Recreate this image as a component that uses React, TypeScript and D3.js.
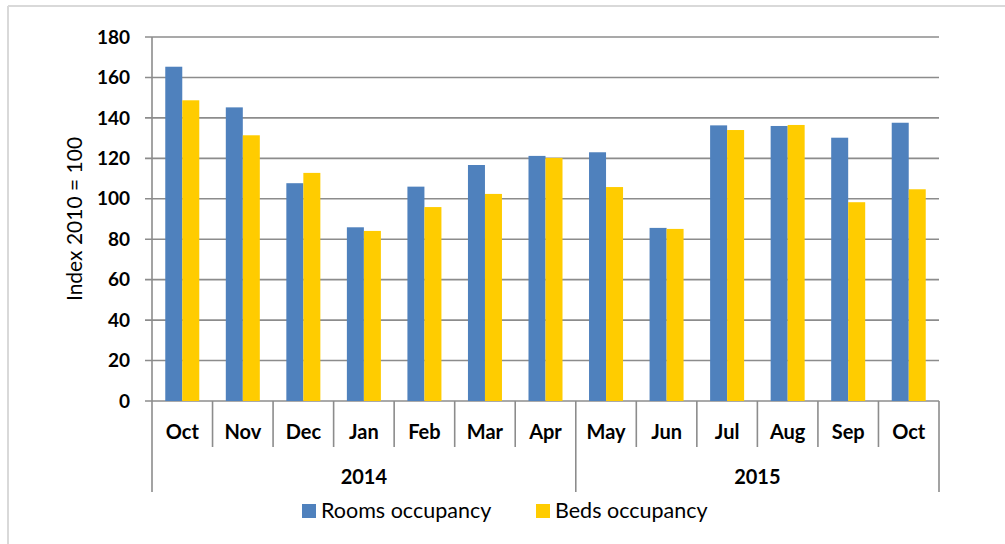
import React from "react";
import * as d3 from "d3";

const months = ["Oct", "Nov", "Dec", "Jan", "Feb", "Mar", "Apr", "May", "Jun", "Jul", "Aug", "Sep", "Oct"];
const years = [
  { label: "2014", start: 0, end: 7 },
  { label: "2015", start: 7, end: 13 },
];
const rooms = [165.3, 145.2, 107.7, 85.9, 106.0, 116.7, 121.2, 123.0, 85.6, 136.3, 136.0, 130.2, 137.6];
const beds = [148.7, 131.4, 112.8, 84.1, 95.9, 102.4, 120.2, 105.8, 85.1, 134.0, 136.5, 98.3, 104.7];
const yTicks = [0, 20, 40, 60, 80, 100, 120, 140, 160, 180];
const seriesNames = ["Rooms occupancy", "Beds occupancy"];
const colors = ["#4f81bd", "#ffcc00"];

export default function App() {
  const W = 1005, H = 544;
  const left = 152, right = 939, top = 37, bottom = 401;
  const font = "Lato, 'Open Sans', sans-serif";
  const y = d3.scaleLinear().domain([0, 180]).range([bottom, top]);
  const idx = months.map((_, i) => i);
  const x = d3.scaleBand<number>().domain(idx).range([left, right]).padding(0);
  const step = x.step();
  const inner = d3.scaleBand<number>().domain([0, 1]).range([0, step]).paddingInner(0).paddingOuter(0.78);
  const grid = "#8c8c8c";
  const data = [rooms, beds];

  return (
    <svg width={W} height={H} style={{ position: "absolute", left: 0, top: 0 }} fontFamily={font}>
      <rect x={0} y={0} width={W} height={H} fill="#fff" />
      <line x1={8} y1={6} x2={W} y2={6} stroke="#d9d9d9" strokeWidth={2} />
      <line x1={8} y1={6} x2={8} y2={H} stroke="#d9d9d9" strokeWidth={2} />
      {yTicks.map((t) => (
        <g key={t}>
          <line x1={145} x2={right} y1={y(t)} y2={y(t)} stroke={grid} strokeWidth={1.6} />
          <text x={130} y={y(t)} dy="0.35em" textAnchor="end" fontWeight="bold" fontSize={19} fill="#000">
            {t}
          </text>
        </g>
      ))}
      <line x1={left} x2={left} y1={top} y2={bottom} stroke={grid} strokeWidth={1.6} />
      {data.map((vals, s) =>
        vals.map((v, i) => (
          <rect
            key={s + "-" + i}
            x={(x(i) as number) + (inner(s) as number)}
            y={y(v)}
            width={inner.bandwidth()}
            height={bottom - y(v)}
            fill={colors[s]}
          />
        ))
      )}
      {d3.range(months.length + 1).map((i) => {
        const isYear = years.some((yr) => yr.start === i || yr.end === i);
        return (
          <line
            key={"t" + i}
            x1={left + i * step}
            x2={left + i * step}
            y1={bottom}
            y2={isYear ? 492 : 447}
            stroke={grid}
            strokeWidth={1.6}
          />
        );
      })}
      {months.map((m, i) => (
        <text key={"m" + i} x={(x(i) as number) + step / 2} y={439} textAnchor="middle" fontWeight="bold" fontSize={20} fill="#000">
          {m}
        </text>
      ))}
      {years.map((yr) => (
        <text
          key={yr.label}
          x={left + ((yr.start + yr.end) / 2) * step}
          y={484}
          textAnchor="middle"
          fontWeight="bold"
          fontSize={20}
          fill="#000"
        >
          {yr.label}
        </text>
      ))}
      <text
        transform={`translate(82, 219) rotate(-90)`}
        textAnchor="middle"
        fontSize={21}
        fill="#000"
      >
        Index 2010 = 100
      </text>
      {seriesNames.map((n, s) => {
        const lx = s === 0 ? 302 : 536;
        return (
          <g key={n}>
            <rect x={lx} y={504} width={14} height={14} fill={colors[s]} />
            <text x={lx + 19} y={518} fontSize={21.5} fill="#000">
              {n}
            </text>
          </g>
        );
      })}
    </svg>
  );
}
